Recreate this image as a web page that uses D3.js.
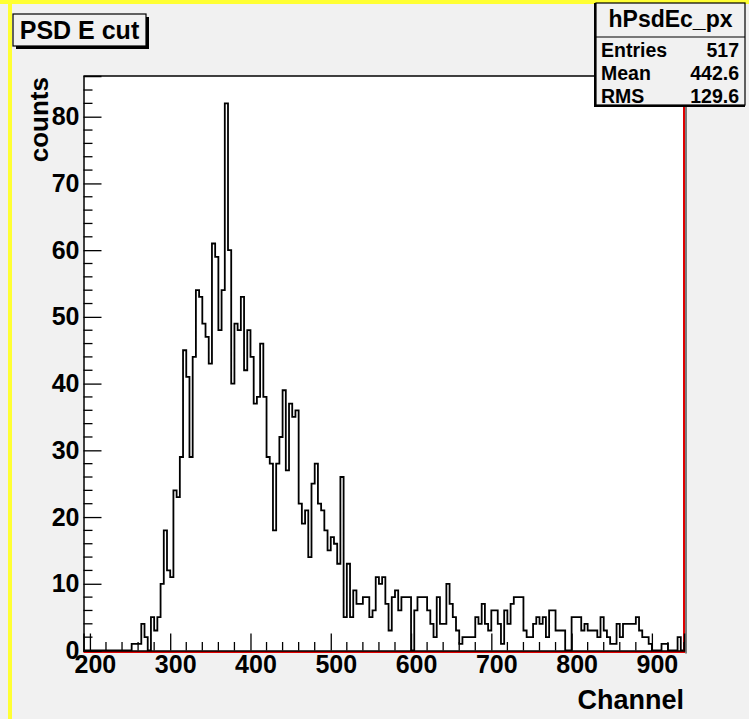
<!DOCTYPE html>
<html>
<head>
<meta http-equiv='Content-Type' content='text/html;charset=utf-8'/>
<title>PSD E cut</title>
<script src='https://d3js.org/d3.v7.min.js'></script>
<style>
body {
	margin: 0;
	background: #f1f1f1;
}
text {
	font-family: 'Liberation Sans', Arial, Helvetica, sans-serif;
	font-weight: bold;
	fill: #000;
}
</style>
</head>
<body>
<script>
'use strict'

// histogram hPsdEc_px : bins of 4 channels from 192 to 940
const binLow = 192
const binWidth = 4
const counts = [
	0, 0, 0, 0, 0, 0, 0, 0, 0, 0, 0, 0, 0, 0, 0, 1, 1, 1, 4, 2,
	0, 5, 3, 5, 10, 18, 12, 11, 24, 23, 29, 45, 41, 29, 44, 54, 53, 49, 47, 43,
	61, 59, 48, 54, 82, 60, 40, 49, 48, 53, 42, 48, 44, 37, 38, 46, 38, 29, 28, 18,
	28, 32, 39, 27, 37, 35, 36, 22, 19, 21, 14, 25, 28, 22, 21, 18, 15, 17, 16, 13,
	26, 5, 13, 5, 9, 7, 7, 8, 8, 5, 6, 11, 10, 11, 7, 3, 8, 9, 6, 8,
	8, 8, 0, 6, 8, 8, 8, 6, 4, 2, 8, 4, 4, 10, 7, 5, 3, 1, 2, 2,
	2, 2, 5, 4, 7, 4, 3, 6, 6, 4, 1, 6, 4, 7, 8, 8, 8, 3, 2, 2,
	4, 5, 4, 5, 2, 6, 6, 3, 3, 3, 0, 0, 5, 5, 5, 3, 4, 3, 3, 3,
	2, 5, 3, 2, 1, 1, 4, 2, 4, 4, 4, 4, 5, 3, 2, 2, 1, 0, 0, 0,
	1, 1, 0, 0, 0, 2, 0
]
const xRange = [192, 940]
const yMax = 86.1
const xTicks = [200, 300, 400, 500, 600, 700, 800, 900]
const yTicks = [0, 10, 20, 30, 40, 50, 60, 70, 80]
const titleText = 'PSD E cut'
const statsName = 'hPsdEc_px'
const statsRows = [['Entries', '517'], ['Mean', '442.6'], ['RMS', '129.6']]

const W = 749, H = 719
const frame = {left: 83.5, right: 684, top: 76, bottom: 650.5}

const svg = d3.select('body').append('svg')
	.attr('width', W)
	.attr('height', H)
	.style('display', 'block')

// canvas
svg.append('rect').attr('width', W).attr('height', H).attr('fill', '#f1f1f1')
svg.append('rect').attr('x', 0).attr('y', 0).attr('width', W).attr('height', 4).attr('fill', '#ffff33')
svg.append('rect').attr('x', 8).attr('y', 0).attr('width', 4).attr('height', H).attr('fill', '#ffff33')

const x = d3.scaleLinear().domain(xRange).range([frame.left, frame.right])
const y = d3.scaleLinear().domain([0, yMax]).range([frame.bottom, frame.top])

// frame
svg.append('rect')
	.attr('x', frame.left).attr('y', frame.top)
	.attr('width', frame.right - frame.left).attr('height', frame.bottom - frame.top)
	.attr('fill', '#ffffff')

// histogram outline
const pts = counts.map((c, i) => ({x: binLow + i * binWidth, v: c}))
pts.unshift({x: binLow, v: 0})
pts.push({x: binLow + counts.length * binWidth, v: counts[counts.length - 1]})
pts.push({x: binLow + counts.length * binWidth, v: 0})

const line = d3.line()
	.x(d => x(d.x))
	.y(d => y(d.v))
	.curve(d3.curveStepAfter)

svg.append('path')
	.attr('d', line(pts))
	.attr('fill', 'none')
	.attr('stroke', '#000')
	.attr('stroke-width', 1.8)

// frame edges: red bottom / right, black top / left
svg.append('line').attr('x1', frame.left).attr('x2', frame.right + 1)
	.attr('y1', frame.bottom + 1.5).attr('y2', frame.bottom + 1.5)
	.attr('stroke', '#e00000').attr('stroke-width', 2)
svg.append('line').attr('x1', frame.right).attr('x2', frame.right)
	.attr('y1', frame.top).attr('y2', frame.bottom + 2)
	.attr('stroke', '#e00000').attr('stroke-width', 2)
svg.append('line').attr('x1', frame.right + 2).attr('x2', frame.right + 2)
	.attr('y1', frame.top).attr('y2', frame.bottom + 3)
	.attr('stroke', '#555').attr('stroke-width', 1.5)

// x axis, ticks pointing into the frame
const xAxis = d3.axisBottom(x)
	.tickValues(xTicks)
	.tickSize(-17)
	.tickFormat(d3.format('d'))
const gx = svg.append('g')
	.attr('transform', `translate(0,${frame.bottom})`)
	.call(xAxis)
gx.select('.domain').attr('stroke', '#000').attr('stroke-width', 1.5)
gx.selectAll('.tick line').attr('stroke', '#000').attr('stroke-width', 1.3)
gx.selectAll('.tick text').attr('x', 5).attr('y', 5).attr('dy', '0.71em').style('font-size', '25px')

const xMinor = d3.range(200, 941, 20).filter(v => v % 100 !== 0)
svg.append('g').selectAll('line').data(xMinor).join('line')
	.attr('x1', d => x(d)).attr('x2', d => x(d))
	.attr('y1', frame.bottom).attr('y2', frame.bottom - 8.5)
	.attr('stroke', '#000').attr('stroke-width', 1.3)

// y axis
const yAxis = d3.axisLeft(y)
	.tickValues(yTicks)
	.tickSize(-18)
	.tickFormat(d3.format('d'))
const gy = svg.append('g')
	.attr('transform', `translate(${frame.left},0)`)
	.call(yAxis)
gy.select('.domain').attr('stroke', '#000').attr('stroke-width', 1.5)
gy.selectAll('.tick line').attr('stroke', '#000').attr('stroke-width', 1.3)
gy.selectAll('.tick text').attr('x', -4).style('font-size', '25px')

const yMinor = d3.range(2, 86, 2).filter(v => v % 10 !== 0)
svg.append('g').selectAll('line').data(yMinor).join('line')
	.attr('x1', frame.left).attr('x2', frame.left + 9)
	.attr('y1', d => y(d)).attr('y2', d => y(d))
	.attr('stroke', '#000').attr('stroke-width', 1.3)

// top frame line
svg.append('line').attr('x1', frame.left).attr('x2', frame.right)
	.attr('y1', frame.top).attr('y2', frame.top)
	.attr('stroke', '#000').attr('stroke-width', 1.5)

// axis titles
svg.append('text')
	.attr('x', frame.right).attr('y', 709)
	.attr('text-anchor', 'end')
	.style('font-size', '27px')
	.text('Channel')

svg.append('text')
	.attr('transform', `translate(48,${frame.top + 1}) rotate(-90)`)
	.attr('text-anchor', 'end')
	.style('font-size', '26px')
	.text('counts')

// title box
const tb = {x: 13, y: 14, w: 133, h: 32}
svg.append('rect').attr('x', tb.x + 3).attr('y', tb.y + 3).attr('width', tb.w).attr('height', tb.h).attr('fill', '#000')
svg.append('rect').attr('x', tb.x).attr('y', tb.y).attr('width', tb.w).attr('height', tb.h)
	.attr('fill', '#f1f1f1').attr('stroke', '#000').attr('stroke-width', 1.2)
svg.append('text')
	.attr('x', tb.x + tb.w / 2).attr('y', tb.y + tb.h / 2 + 9)
	.attr('text-anchor', 'middle')
	.style('font-size', '25px')
	.text(titleText)

// stats box
const sb = {x: 596, y: 3, w: 149, h: 102, head: 34}
svg.append('rect').attr('x', sb.x - 2).attr('y', sb.y).attr('width', sb.w + 2).attr('height', sb.h + 2).attr('fill', '#000')
svg.append('rect').attr('x', sb.x).attr('y', sb.y).attr('width', sb.w).attr('height', sb.h)
	.attr('fill', '#f1f1f1').attr('stroke', '#000').attr('stroke-width', 1.2)
svg.append('line').attr('x1', sb.x).attr('x2', sb.x + sb.w)
	.attr('y1', sb.y + sb.head).attr('y2', sb.y + sb.head)
	.attr('stroke', '#000').attr('stroke-width', 1.2)
svg.append('text')
	.attr('x', sb.x + sb.w / 2).attr('y', sb.y + 24)
	.attr('text-anchor', 'middle')
	.style('font-size', '23px')
	.text(statsName)
const rowH = (sb.h - sb.head) / statsRows.length
statsRows.forEach((r, i) => {
	const ty = sb.y + sb.head + rowH * i + rowH / 2 + 9
	svg.append('text').attr('x', sb.x + 5).attr('y', ty)
		.style('font-size', '19.5px').text(r[0])
	svg.append('text').attr('x', sb.x + sb.w - 6).attr('y', ty)
		.attr('text-anchor', 'end')
		.style('font-size', '19.5px').text(r[1])
})
</script>
</body>
</html>
